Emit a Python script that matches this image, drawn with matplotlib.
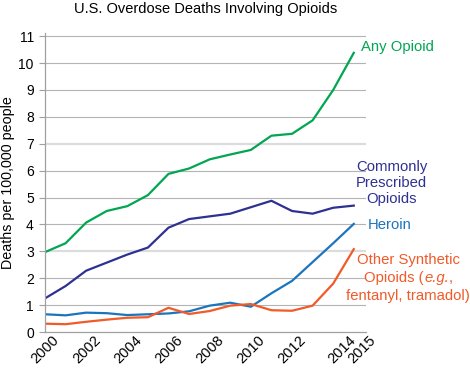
import matplotlib
matplotlib.use("Agg")
import matplotlib.pyplot as plt
from matplotlib.transforms import ScaledTranslation, IdentityTransform

plt.rcParams["font.family"] = ["Liberation Sans", "DejaVu Sans"]

# ── 数据 ──
years = list(range(2000, 2016))
any_opioid = [2.97, 3.3, 4.07, 4.5, 4.68, 5.09, 5.88, 6.08, 6.42, 6.6, 6.77, 7.3, 7.37, 7.87, 9.0, 10.38]
prescribed = [1.25, 1.71, 2.28, 2.58, 2.88, 3.14, 3.88, 4.2, 4.3, 4.4, 4.64, 4.88, 4.5, 4.4, 4.62, 4.7]
heroin = [0.66, 0.62, 0.72, 0.7, 0.63, 0.66, 0.69, 0.77, 0.98, 1.09, 0.94, 1.44, 1.9, 2.6, 3.3, 4.02]
synthetic = [0.31, 0.29, 0.38, 0.46, 0.53, 0.55, 0.9, 0.67, 0.78, 0.98, 1.04, 0.81, 0.79, 0.98, 1.8, 3.08]

xticks = [2000, 2002, 2004, 2006, 2008, 2010, 2012, 2014, 2015]
yticks = list(range(0, 12))

COLORS = {
    "any": "#00a651",
    "presc": "#2e3192",
    "heroin": "#1c75bc",
    "synth": "#f15a29",
}

fig = plt.figure(figsize=(4.7, 3.68), dpi=100)
ax = fig.add_axes([0.0957, 0.0978, 0.779 - 0.0957, 0.909 - 0.0978])

ax.set_xlim(2000, 2015.6)
ax.set_ylim(0, 11.1)

# 网格线（3和7较浅较粗）
for v in yticks[1:]:
    if v in (3, 7):
        ax.axhline(v, color="#dcdcdc", lw=1.6, zorder=0)
    else:
        ax.axhline(v, color="#b4b4b4", lw=0.8, zorder=0)

ax.plot(years, any_opioid, color=COLORS["any"], lw=1.6)
ax.plot(years, prescribed, color=COLORS["presc"], lw=1.6)
ax.plot(years, heroin, color=COLORS["heroin"], lw=1.6)
ax.plot(years, synthetic, color=COLORS["synth"], lw=1.6)

for s in ("top", "right"):
    ax.spines[s].set_visible(False)
for s in ("left", "bottom"):
    ax.spines[s].set_color("#a0a0a0")
    ax.spines[s].set_linewidth(0.9)

ax.set_yticks(yticks)
ax.set_xticks(xticks)
ax.set_xticklabels([str(x) for x in xticks], rotation=45, ha="right",
                   va="top", rotation_mode="anchor")
ax.tick_params(axis="y", length=4, color="#a0a0a0", labelsize=10, pad=4)
ax.tick_params(axis="x", length=0, labelsize=10.5, pad=1)

# x刻度标签右移（2014/2015 更靠右）
shifts = {2014: 15, 2015: 15}
for val, lab in zip(xticks, ax.get_xticklabels()):
    dx = shifts.get(val, 7)
    lab.set_transform(lab.get_transform() + ScaledTranslation(dx / 100, 0, fig.dpi_scale_trans))

ax.set_ylabel("Deaths per 100,000 people", fontsize=10.3)
ax.yaxis.set_label_coords(-0.093, 0.5)
ax.set_title("U.S. Overdose Deaths Involving Opioids", fontsize=10.5, pad=15)

# 线条标签
FS = 10.7
kw = dict(fontsize=FS, clip_on=False, linespacing=1.2)
ax.text(2015.35, 10.59, "Any Opioid", color=COLORS["any"], ha="left", va="center", **kw)
ax.text(2016.84, 5.54, "Commonly\nPrescribed\nOpioids", color=COLORS["presc"],
        ha="center", va="center", **kw)
ax.text(2015.7, 3.98, "Heroin", color=COLORS["heroin"], ha="left", va="center", **kw)

ax.text(2017.67, 2.68, "Other Synthetic", color=COLORS["synth"], ha="center", va="center", **kw)
ax.text(2017.62, 1.34, "fentanyl, tramadol)", color=COLORS["synth"], ha="center", va="center", **kw)


def mixed_line(x, y, parts, color):
    """一行中混合正体和斜体，整体居中"""
    r = fig.canvas.get_renderer()
    texts = [ax.text(0, 0, s, style=st, color=color, fontsize=FS,
                     ha="left", va="center", clip_on=False) for s, st in parts]
    widths = [t.get_window_extent(r).width for t in texts]
    xd, yd = ax.transData.transform((x, y))
    cur = xd - sum(widths) / 2
    for t, w in zip(texts, widths):
        t.set_transform(IdentityTransform())
        t.set_position((cur, yd))
        cur += w


mixed_line(2017.67, 2.01, [("Opioids (", "normal"), ("e.g.", "italic"), (",", "normal")],
           COLORS["synth"])

fig.savefig("out.png", dpi=100)
